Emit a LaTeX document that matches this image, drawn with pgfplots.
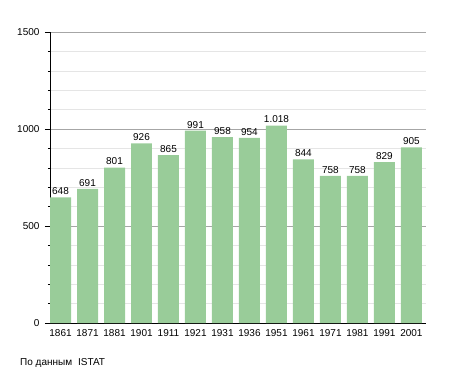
\documentclass[border=0pt]{standalone}
\usepackage{pgfplots}
\pgfplotsset{compat=1.18}
\usepackage{fontspec}
\setmainfont{Liberation Sans}
\definecolor{bargreen}{RGB}{153,204,153}
\begin{document}
\begin{tikzpicture}
\useasboundingbox (-50pt,-50pt) rectangle (405pt,323pt);
\begin{axis}[
  scale only axis,
  width=376pt, height=291pt,
  xmin=-0.39, xmax=13.54,
  ymin=0, ymax=1500,
  axis lines*=left,
  axis line style={black, line width=0.8pt},
  xtick=data,
  xticklabels={1861,1871,1881,1901,1911,1921,1931,1936,1951,1961,1971,1981,1991,2001},
  x tick style={draw=none},
  ytick={0,500,1000,1500},
  minor ytick={100,200,300,400,600,700,800,900,1100,1200,1300,1400},
  ymajorgrids, yminorgrids,
  major grid style={color=black!35, line width=0.6pt},
  minor grid style={color=black!10, line width=0.6pt},
  tick align=outside,
  major tick length=5pt,
  minor tick length=2pt,
  y tick style={black, line width=0.6pt},
  tick label style={font=\fontsize{10}{12}\selectfont},
  xticklabel style={yshift=2pt},
  yticklabel style={xshift=-2pt},
  /pgf/number format/assume math mode=true,
  yticklabel={\pgfmathprintnumber[1000 sep={}]{\tick}},
  ybar, bar width=21/27,
  nodes near coords,
  nodes near coords style={font=\fontsize{10}{12}\selectfont, /pgf/number format/1000 sep={.}, /pgf/number format/assume math mode=true, yshift=-1pt},
]
\addplot[fill=bargreen, draw=none] coordinates {
(0,648) (1,691) (2,801) (3,926) (4,865) (5,991) (6,958) (7,954) (8,1018) (9,844) (10,758) (11,758) (12,829) (13,905)};
\end{axis}
\node[anchor=base west, font=\fontsize{10}{12}\selectfont, inner sep=0] at (-30pt,-42pt) {По данным\hspace{6pt}ISTAT};
\end{tikzpicture}
\end{document}
